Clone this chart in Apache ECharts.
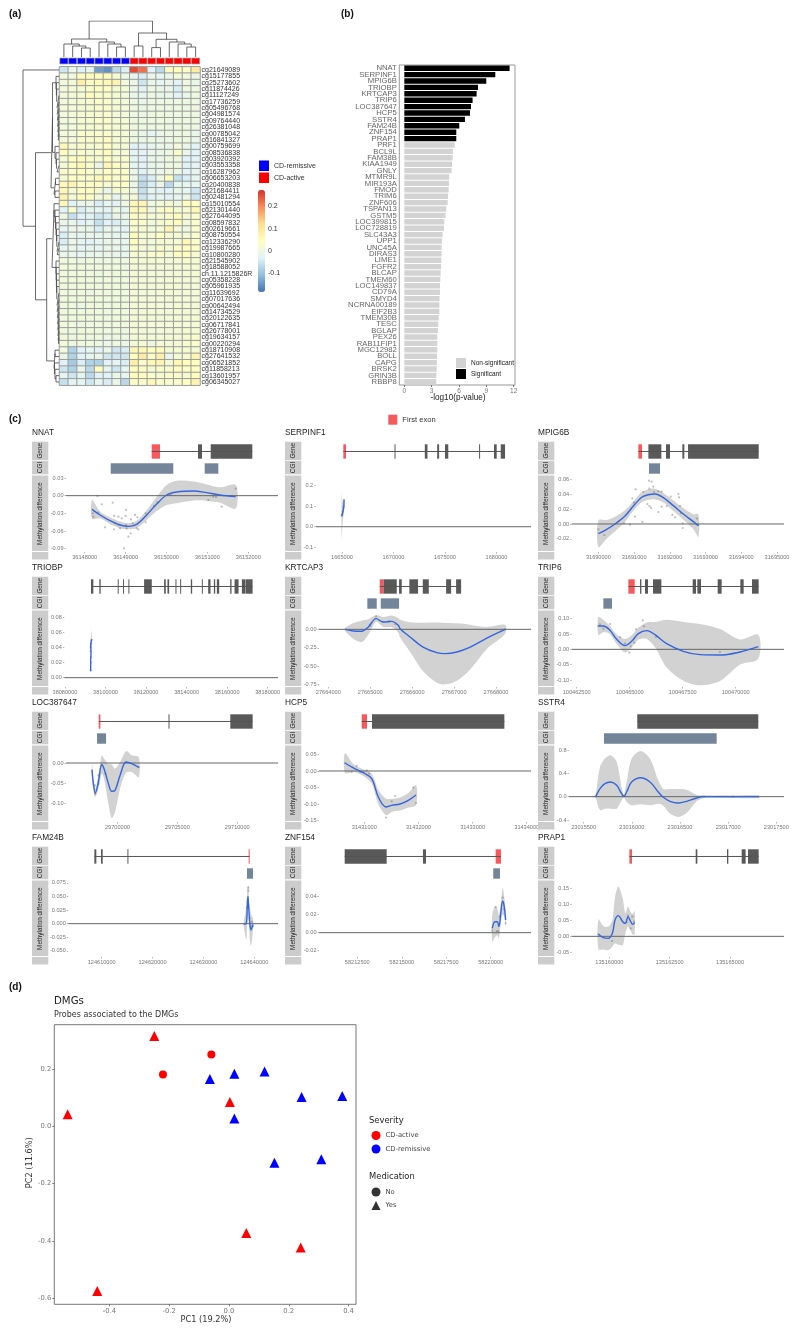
<!DOCTYPE html>
<html><head><meta charset="utf-8">
<style>html,body{margin:0;padding:0;background:#fff}#c{width:798px;height:1334px}</style>
<script src="https://cdn.jsdelivr.net/npm/echarts@6/dist/echarts.min.js"></script>
</head><body><div id="c"></div>
<script>
// ---------- panel (a) data
const probes=['cg21649089','cg15177855','cg25273602','cg11874426','cg11127249','cg17736259','cg05496768','cg04981574','cg09764440','cg26381048','cg00785042','cg16841327','cg00759699','cg08536838','cg03920392','cg03553358','cg16287962','cg06653203','cg20400838','cg21684411','cg02481294','cg15010554','cg21301440','cg27644095','cg08597832','cg02619661','cg08750554','cg12336290','cg19987665','cg10800280','cg21545902','cg18588052','ch.11.1215826R','cg05358228','cg05961935','cg11639692','cg07017636','cg00642494','cg14734529','cg20122635','cg06717841','cg26778001','cg19634157','cg00220294','cg18710908','cg27641532','cg06521852','cg11858213','cg13601957','cg06345027'];
const samples=['s1','s2','s3','s4','s5','s6','s7','s8','s9','s10','s11','s12','s13','s14','s15','s16'];
const sampleGroup=['CD-remissive','CD-remissive','CD-remissive','CD-remissive','CD-remissive','CD-remissive','CD-remissive','CD-remissive','CD-active','CD-active','CD-active','CD-active','CD-active','CD-active','CD-active','CD-active'];
const methylation=[
[-.05,-.01,-.035,-.02,-.14,-.155,-.07,-.04,.25,.22,-.03,-.07,.05,.05,.03,.09],
[.01,.005,.05,.055,.05,.05,.02,-.01,-.02,-.04,-.01,-.02,-.01,.01,.005,-.005],
[.01,.015,.08,.04,.05,.06,.07,.01,-.01,-.05,-.01,-.02,-.01,-.03,0,-.01],
[.01,.015,.02,.03,.04,.04,.02,.02,-.01,-.03,0,-.01,-.01,-.04,0,0],
[.015,.015,.02,.05,.03,.03,.02,.01,-.01,-.02,0,-.015,-.01,-.03,-.01,0],
[.01,.015,.02,.02,.03,.03,.02,.015,0,-.01,0,0,0,0,0,0],
[.015,.015,.02,.02,.025,.03,.02,.015,0,-.005,0,0,0,0,0,0],
[.01,.015,.02,.025,.025,.03,.015,.015,0,-.005,0,.005,0,0,0,0],
[.01,.01,.02,.02,.03,.03,.02,.02,0,0,0,0,0,0,0,0],
[.01,.01,.02,.02,.02,.03,.02,.02,.005,0,0,0,0,0,0,0],
[.01,.01,.03,.03,.03,.03,.02,.02,0,-.01,-.02,-.01,0,0,0,-.01],
[.015,.015,.03,.03,.03,.05,.02,.02,0,-.01,0,-.01,0,0,0,-.01],
[.06,.02,.03,.02,.03,.04,.02,.02,-.03,-.03,-.02,-.01,-.01,.01,-.01,-.03],
[.05,.02,.03,.02,.03,.05,.02,.02,-.02,-.03,-.01,-.01,0,.03,-.01,-.03],
[.02,.04,.05,.03,.02,.04,.02,.03,-.02,-.03,-.01,-.01,0,0,-.03,-.03],
[.02,.04,.06,.03,-.01,.06,.04,.03,-.02,-.03,-.015,-.01,0,0,-.03,-.025],
[.03,.03,.05,.03,.02,.04,.03,.04,-.01,-.03,-.01,-.01,0,0,-.03,-.02],
[.02,.04,.03,.03,.06,.05,.03,.04,-.01,-.06,-.04,0,.05,-.06,-.04,-.02],
[.06,.07,.04,.04,.05,.02,.03,.04,-.01,-.07,-.04,-.01,-.07,-.02,-.02,-.02],
[.06,.02,.04,.04,.02,-.01,.02,.02,0,-.06,-.02,-.03,-.03,-.01,-.02,-.05],
[.07,.02,.05,.04,.01,.02,-.02,.01,.01,-.05,-.03,-.02,-.03,-.02,-.01,-.05],
[.06,-.03,-.01,-.01,-.04,-.02,-.03,0,.06,.07,0,.01,.02,0,.05,.04],
[-.03,.03,-.04,-.02,-.02,-.03,0,-.02,.06,.06,0,.03,.04,.02,.02,.06],
[0,-.06,-.03,-.03,-.05,-.04,-.01,-.01,.04,.03,.02,.02,.03,.05,.02,.03],
[-.01,-.01,-.03,-.02,-.06,-.03,-.04,-.02,.03,.03,.01,.02,.03,.05,.01,.03],
[-.02,-.01,-.01,-.01,-.04,-.01,-.02,-.03,.03,.02,.01,.02,.07,.01,0,.03],
[-.04,-.01,-.02,-.01,-.02,-.01,-.02,-.02,.05,.02,.02,.04,.02,.02,.01,.03],
[-.04,-.01,-.02,-.03,-.02,-.01,-.01,-.02,.05,.02,.01,.02,.02,.02,.06,.03],
[-.02,-.01,-.02,-.02,-.02,-.01,-.01,-.02,.03,.02,.01,.03,.02,.03,.05,.04],
[-.01,-.01,-.02,-.01,-.01,-.01,-.01,-.02,.02,.02,.03,.03,.02,.05,.05,.02],
[.005,.005,0,.005,0,0,.005,0,.02,.02,.015,.015,.015,.015,.025,.02],
[.01,.005,.005,.005,.005,.005,.01,0,.015,.015,.015,.015,.015,.015,.02,.02],
[.005,.005,.005,.005,0,.005,.005,.005,.015,.015,.015,.015,.01,.015,.015,.02],
[.005,.005,.005,.005,.005,.005,.005,.005,.015,.015,.01,.015,.015,.015,.015,.015],
[.005,.005,.005,.005,.005,.005,.005,.005,.015,.015,.015,.015,.015,.015,.015,.015],
[.005,.005,.005,0,.005,.005,.005,.005,.015,.01,.015,.015,.015,.015,.015,.015],
[.005,.005,.005,.005,.005,.005,.005,.005,.015,.015,.015,.015,.015,.015,.015,.015],
[.005,.005,0,.005,.005,.005,.005,.005,.015,.015,.015,.015,.01,.015,.015,.015],
[.005,.005,.005,.005,.005,0,.005,.005,.015,.015,.015,.015,.015,.015,.015,.015],
[.005,.005,.005,.005,.005,.005,.005,.005,.015,.015,.015,.01,.015,.015,.015,.02],
[.005,.005,0,.005,.005,.005,.005,.005,.015,.015,.015,.015,.015,.015,.015,.02],
[.005,0,.005,.005,.005,.005,.005,0,.015,.015,.01,.015,.015,.015,.02,.02],
[.005,0,.005,0,.005,-.005,0,0,.015,.015,.015,.015,.015,.015,.02,.025],
[.01,0,0,.005,0,-.01,0,-.005,.015,.02,-.005,.015,.015,.015,.025,.03],
[.01,-.08,-.03,-.02,-.03,-.01,-.05,-.04,.06,.06,.04,.05,.02,.02,.02,.02],
[-.01,-.08,-.03,-.02,-.01,-.05,-.05,-.05,.05,.09,.03,.08,-.01,.02,.02,.07],
[-.03,-.09,-.04,-.08,-.08,-.03,-.02,-.04,.08,.03,.06,.07,.02,.06,.05,.05],
[-.05,-.08,-.01,-.07,.05,-.02,-.05,-.02,.05,.04,.02,.03,.03,.04,.04,.04],
[-.02,-.05,-.02,-.07,-.03,-.03,-.01,-.02,.05,.05,.03,.02,.03,.03,.02,.05],
[-.06,-.02,-.02,-.05,-.02,-.04,-.01,-.07,.04,.03,.06,.03,.03,.03,.04,.07]
];
const heatColors=['#4575B4','#91BFDB','#E0F3F8','#FFFFBF','#FEE090','#FC8D59','#D73027'];
const heatRange=[-.184,.272];
const heatTicks=[.2,.1,0,-.1];
// dendrograms: [height, childA, childB], a number is a leaf
const sampleTree=[36,[18,[13,0,[11,1,[9,2,3]]],[15,4,[13,5,[10,6,7]]]],[24,[11,8,9],[17.7,[9.4,10,11],[15,12,[13,13,[10,14,15]]]]]];
const probeTree=[36,0,[23.5,
 [8,[6.5,[3,1,[2.6,2,[2.3,3,[2,4,[1.8,5,[1.6,6,[1.4,7,[1.2,8,[1,9,[.8,10,11]]]]]]]]]],[4,12,[3,13,[2.5,14,[2,15,16]]]]],[5,[3.5,17,18],[4,19,20]]],
 [12.3,[7,[5,21,[4,22,[3.5,23,[3,24,[2.5,25,[2.2,26,[2,27,[1.8,28,29]]]]]]]],[3,30,[2.8,31,[2.6,32,[2.4,33,[2.2,34,[2,35,[1.8,36,[1.6,37,[1.4,38,[1.2,39,[1,40,[.8,41,[.6,42,43]]]]]]]]]]]]]],[5,[4,44,45],[4.5,46,[4,47,[3,48,49]]]]]
]];
// ---------- panel (b) data
const genes=['NNAT','SERPINF1','MPIG6B','TRIOBP','KRTCAP3','TRIP6','LOC387647','HCP5','SSTR4','FAM24B','ZNF154','PRAP1','PRF1','BCL9L','FAM38B','KIAA1949','GNLY','MTMR9L','MIR193A','FMOD','TRIM6','ZNF606','TSPAN13','GSTM5','LOC399815','LOC728819','SLC43A3','UPP1','UNC45A','DIRAS3','LIME1','FGFR2','BLCAP','TMEM60','LOC149837','CD79A','SMYD4','NCRNA00189','EIF2B3','TMEM30B','TESC','BGLAP','PEX26','RAB11FIP1','MGC12982','BOLL','CAPG','BRSK2','GRIN3B','RBBP8'];
const logP=[11.55,9.98,8.99,8.08,7.93,7.49,7.31,7.2,6.65,6.03,5.7,5.7,5.52,5.34,5.3,5.23,5.19,4.93,4.9,4.86,4.79,4.75,4.6,4.53,4.39,4.35,4.2,4.13,4.09,4.09,4.06,4.02,3.98,3.95,3.91,3.91,3.87,3.84,3.84,3.77,3.73,3.69,3.62,3.62,3.62,3.58,3.58,3.55,3.51,3.51];
const significantCount=12;
const logPTicks=[0,3,6,9,12];
// ---------- panel (c) data: each gene has its own small arrays (offsets in bp from `base`)
const nnat={name:'NNAT',base:36148000,min:36147543,max:36152726,xt:[36148000,36149000,36150000,36151000,36152000],ymin:-.0957,ymax:.0334,yt:[.03,0,-.03,-.06,-.09],dec:2,
 first:[1638,1841],exons:[[2770,2868],[3081,4098]],cgi:[[636,2166],[2934,3267]],
 x:[179,375,619,864,1068,1271,1516,1760,2005,2249,2657,2983,3309,3692],
 y:[-.0232,-.0328,-.0425,-.0498,-.0521,-.0487,-.0328,-.0142,.0011,.0062,.0079,.0051,.0011,-.0017],
 se:[.016,.0057,.0057,.0057,.0051,.0062,.0085,.012,.017,.019,.016,.014,.013,.02],
 pts:[[310,-.0006],[416,-.0147],[196,-.03],[212,-.0357],[334,-.0289],[497,-.0538],[685,-.0119],[717,-.0345],[742,-.047],[717,-.0572],[823,-.0357],[823,-.0498],[905,-.0385],[864,-.0555],[1011,-.0243],[1002,-.0345],[1011,-.0498],[1027,-.0555],[1068,-.0696],[1125,-.064],[1133,-.0402],[962,-.0894],[1231,-.0328],[1288,-.0368],[1271,-.0555],[1174,-.047],[1312,-.0572],[1491,-.0453],[1491,-.03],[1695,-.0175],[1777,-.0113],[2103,.0011],[3024,-.0074],[3146,-.0017],[3211,-.0023],[3350,-.0187],[3692,.0119]]};
const serpinf1={name:'SERPINF1',base:1665000,min:1662447,max:1683350,xt:[1665000,1670000,1675000,1680000],ymin:-.122,ymax:.245,yt:[.2,.1,0,-.1],dec:1,
 first:[130,390],exons:[[5100,5180],[8040,8300],[9240,9430],[10000,10320],[13310,13370],[14760,15020],[15410,15830]],cgi:[],
 x:[-32,65,161,194,194],y:[.052,.068,.089,.113,.129],se:[.11,.05,.03,.05,.09],
 pts:[[-32,.052],[20,.06],[65,.075],[100,.09],[161,.1],[194,.13]]};
const mpig6b={name:'MPIG6B',base:31690000,min:31689254,max:31695196,xt:[31690000,31691000,31692000,31693000,31694000,31695000],ymin:-.0376,ymax:.0644,yt:[.06,.04,.02,0,-.02],dec:2,
 first:[1120,1222],exons:[[1400,1763],[1894,2006],[2351,2407],[2510,4488]],cgi:[[1418,1726]],
 x:[0,233,467,746,980,1213,1400,1586,1819,2099,2379,2659,2799],
 y:[-.013,-.0072,0,.0107,.0241,.0358,.0393,.0402,.0353,.0246,.0134,.0031,-.0022],
 se:[.018,.0125,.0098,.0076,.0063,.0067,.0072,.0072,.0063,.0072,.0076,.0098,.0152],
 pts:[[0,-.0072],[168,-.0148],[718,.0009],[886,-.0009],[1026,.0098],[1045,.0465],[952,.0344],[998,.0286],[1232,.0027],[1260,.0429],[1372,.0268],[1427,.0241],[1474,.0215],[1418,.0581],[1493,.0568],[1540,.0501],[1427,.0474],[1558,.0429],[1679,.0161],[1773,.0232],[1679,.0438],[1773,.0434],[1913,.0241],[2025,.0367],[2071,.0121],[2146,.0089],[2239,.0402],[2258,.0358],[2286,.0241],[2360,.0009],[2360,-.0054],[2305,.0143],[2762,.0072],[2799,-.0013]]};
const triobp={name:'TRIOBP',base:38080000,min:38079670,max:38185106,xt:[38080000,38100000,38120000,38140000,38160000,38180000],ymin:-.0123,ymax:.088,yt:[.08,.06,.04,.02,0],dec:2,
 first:null,exons:[[12847,14000],[16964,17623],[26023,26517],[28658,29152],[31293,31787],[39034,42822],[48916,49739],[50563,51386],[54516,55010],[56822,57316],[62092,62751],[67527,68021],[70656,71809],[73456,74115],[74939,76091],[81527,82185],[83668,85644],[87291,89103],[89267,92561]],cgi:[],
 x:[12682,12682,12847,12682,13176],y:[.0084,.0207,.033,.0427,.0506],se:[.006,.005,.005,.006,.012],
 pts:[[12682,.01],[12847,.02],[12682,.035],[12847,.027],[13000,.045],[12700,.04],[13176,.05]]};
const krtcap3={name:'KRTCAP3',base:27664000,min:27663778,max:27668835,xt:[27664000,27665000,27666000,27667000,27668000],ymin:-.782,ymax:.2486,yt:[0,-.25,-.5,-.75],dec:2,
 first:[1227,1313],exons:[[1313,1633],[1688,1752],[1933,2141],[2253,2397],[2810,2929],[3048,3168]],cgi:[[931,1155],[1251,1688]],
 x:[399,597,797,955,1139,1313,1513,1671,1711,1950,2261,2588,2788,3067,3384,3782,4218],
 y:[0,-.0226,-.027,.032,.145,.099,.108,.054,.009,-.104,-.24,-.316,-.33,-.307,-.24,-.118,0],
 se:[.02,.108,.145,.104,.045,.068,.08,.1,.12,.2,.33,.407,.416,.389,.303,.149,.06],
 pts:[[1139,.176],[1000,.05],[1300,.1],[1450,.11],[1600,.07],[4218,0]]};
const trip6={name:'TRIP6',base:100462500,min:100462264,max:100472279,xt:[100462500,100465000,100467500,100470000],ymin:-.1228,ymax:.125,yt:[.1,.05,0,-.05,-.1],dec:2,
 first:[2437,2735],exons:[[2987,3050],[3223,3364],[3600,3993],[5471,5628],[5691,5864],[6650,6838],[7719,7876],[8269,8583]],cgi:[[1258,1666]],
 x:[1022,1258,1572,1886,2279,2594,2908,3301,3694,4244,5030,5816,6760,7703,8567],
 y:[.0761,.0761,.062,.0326,.012,.0261,.0511,.0609,.0478,.0185,-.0065,-.0174,-.0185,-.0087,.0087],
 se:[.029,.02,.013,.016,.022,.02,.02,.027,.041,.078,.096,.1,.085,.041,.039],
 pts:[[1022,.0761],[1258,.0674],[1100,.0815],[1572,.0826],[2044,.0402],[2279,.0185],[2484,-.0109],[2547,.0098],[2720,.0217],[2798,.0652],[3113,.0946],[3175,.075],[3741,.0402],[6760,-.0087]]};
const loc387647={name:'LOC387647',base:29700000,min:29695710,max:29713399,xt:[29700000,29705000,29710000],ymin:-.1475,ymax:.0425,yt:[0,-.05,-.1],dec:2,
 first:[-1560,-1421],exons:[[4263,4346],[9417,11283]],cgi:[[-1699,-947]],
 x:[-2117,-2006,-1839,-1588,-1309,-1114,-752,-474,-195,223,724,1198,1783],
 y:[-.0183,-.0516,-.075,-.0475,-.0042,-.0142,-.0516,-.0708,-.0683,-.0308,.0025,-.0017,-.0108],
 se:[.018,.017,.01,.017,.023,.025,.05,.067,.054,.033,.027,.021,.025],
 pts:[[-2117,-.0183],[-1867,-.056],[-1588,-.031],[-1588,-.052],[-1309,-.006],[-1003,-.027],[724,.001],[-1867,-.077],[1783,-.0108]]};
const hcp5={name:'HCP5',base:31431000,min:31430163,max:31434079,xt:[31431000,31432000,31433000,31434000],ymin:-.1545,ymax:.0757,yt:[.05,0,-.05,-.1,-.15],dec:2,
 first:[-48,50],exons:[[142,2587]],cgi:[],
 x:[-357,-203,-18,137,259,401,506,660,813,955],
 y:[.0242,.0091,-.005,-.0232,-.0788,-.109,-.104,-.1,-.0889,-.0727],
 se:[.03,.012,.01,.015,.022,.025,.02,.02,.022,.03],
 pts:[[-357,.0242],[-233,-.003],[-141,.015],[-79,-.003],[-48,-.003],[45,.002],[88,-.008],[402,-.141],[506,-.092],[568,-.076],[905,-.0505],[955,-.0969]]};
const sstr4={name:'SSTR4',base:23015500,min:23015348,max:23017580,xt:[23015500,23016000,23016500,23017000,23017500],ymin:-.434,ymax:.868,yt:[.8,.4,0,-.4],dec:1,
 first:null,exons:[[557,1813]],cgi:[[211,1381]],
 x:[125,170,221,280,343,394,419,446,498,592,689,775,827,896,983,1069,1173,1249,1554,1813],
 y:[0,.137,.223,.251,.194,.051,.006,.08,.251,.325,.251,.08,-.011,-.08,-.108,-.08,-.023,0,0,0],
 se:[.011,.37,.43,.457,.4,.114,.03,.17,.4,.457,.4,.2,.143,.21,.24,.2,.057,.023,.023,.023],
 pts:[[125,0],[405,.011],[422,.011],[1249,0],[1813,0],[1554,0]]};
const fam24b={name:'FAM24B',base:124610000,min:124603434,max:124644662,xt:[124610000,124620000,124630000,124640000],ymin:-.0613,ymax:.0785,yt:[.075,.05,.025,0,-.025,-.05],dec:3,
 first:[28890,29087],exons:[[-1445,-1051],[-131,197],[5056,5253]],cgi:[[28562,29744]],
 x:[27906,28431,28628,28759,28890,28956,29087,29350,29744],
 y:[-.0006,.0006,.0343,.0497,.0497,.0221,.0037,-.0116,-.0012],
 se:[.003,.03,.03,.02,.02,.02,.03,.03,.01],
 pts:[[28824,.0662],[28824,.0607],[28759,.0313],[28562,.0294],[29087,.0098],[29547,.0037],[29350,-.0055],[29744,-.0043]]};
const znf154={name:'ZNF154',base:58212500,min:58210348,max:58222265,xt:[58212500,58215000,58217500,58220000],ymin:-.027,ymax:.0574,yt:[.04,.02,0,-.02],dec:2,
 first:[7778,8076],exons:[[-708,1652],[3692,3861]],cgi:[[7643,8020]],
 x:[7587,7739,7868,7964,8076,8172,8261,8340],
 y:[.0048,.0122,.0122,.0067,.0233,.0352,.0289,.0141],
 se:[.015,.017,.015,.013,.011,.015,.011,.0074],
 pts:[[7587,.0022],[7778,.0285],[7834,.0018],[7924,.0018],[8020,.0178],[8172,.0389],[8261,.0259],[8340,.0104]]};
const prap1={name:'PRAP1',base:135160000,min:135158439,max:135167237,xt:[135160000,135162500,135165000],ymin:-.0651,ymax:.1743,yt:[.15,.1,.05,0,-.05],dec:2,
 first:[829,939],exons:[[3577,3646],[4875,4930],[5483,5648],[5745,6187]],cgi:[],
 x:[-456,-249,-41,124,235,373,552,663,773,884,967,1050],
 y:[.0063,-.0042,-.0063,.0095,.0515,.0651,.0462,.041,.062,.0462,.0378,.0431],
 se:[.047,.037,.037,.042,.0735,.092,.0735,.032,.032,.029,.032,.037],
 pts:[[-456,.0063],[110,-.0147],[718,.0441],[773,.0651],[884,.0252],[953,.062],[1022,.0462]]};
const facets=[nnat,serpinf1,mpig6b,triobp,krtcap3,trip6,loc387647,hcp5,sstr4,fam24b,znf154,prap1];
// ---------- panel (d) data
const activeYes=[[-.25,.315],[-.54,.042],[.003,.085],[.058,-.372],[.24,-.423],[-.441,-.575]];
const activeNo=[[-.221,.181],[-.059,.251]];
const remissiveYes=[[-.064,.165],[.018,.183],[.119,.191],[.243,.102],[.379,.106],[.018,.027],[.152,-.127],[.309,-.115]];
const pc1Ticks=[-.4,-.2,0,.2,.4];
const pc2Ticks=[.2,0,-.2,-.4,-.6];

// ---------- layout
const SANS='"Liberation Sans",Arial,sans-serif', DJ='"DejaVu Sans",sans-serif';
const noLine={show:false,onZero:false};
const grids=[],xAxes=[],yAxes=[],series=[],gfx=[];
function addGrid(r,x,y){const i=grids.length;grids.push(Object.assign({containLabel:false},r));xAxes.push(Object.assign({gridIndex:i},x));yAxes.push(Object.assign({gridIndex:i},y));return i;}
const hide=(min,max,extra)=>Object.assign({type:'value',show:false,min,max},extra||{});
function text(t,x,y,o){o=o||{};gfx.push({type:'text',x,y,rotation:o.rot||0,silent:true,z:20,style:{text:t,fontSize:o.size||8,fontFamily:o.font||SANS,fontWeight:o.bold?'bold':'normal',fill:o.color||'#333',align:o.align||'left',verticalAlign:'middle'}});}
function rect(x,y,w,h,c){gfx.push({type:'rect',silent:true,z:1,shape:{x,y,width:w,height:h},style:{fill:c}});}
function flatten(node,out,swap){
  if(typeof node==='number')return [node,0];
  const a=flatten(node[1],out,swap),b=flatten(node[2],out,swap),h=node[0];
  const P=(p,v)=>swap?[v,p]:[p,v];
  out.push(P(a[0],a[1]),P(a[0],h),P(b[0],h),P(b[0],b[1]),[null,null]);
  return [(a[0]+b[0])/2,h];
}
const fmt=d=>v=>Number(v).toFixed(d);

// --- (a) heatmap (must stay series 0, visualMap targets it)
const hg=addGrid({left:59.5,top:66.8,width:140.5,height:318.4},
 {type:'category',data:samples,show:false},
 {type:'category',data:probes,inverse:true,position:'right',axisLine:{show:false},axisTick:{show:false},axisLabel:{interval:0,fontSize:7,color:'#333',margin:1.5,fontFamily:SANS}});
const hd=[];methylation.forEach((r,ri)=>r.forEach((v,ci)=>hd.push([ci,ri,v])));
series.push({type:'heatmap',xAxisIndex:hg,yAxisIndex:hg,data:hd,itemStyle:{borderColor:'#9c9c9c',borderWidth:1}});
// annotation strip
const ag=addGrid({left:59.5,top:57.7,width:140.5,height:6.6},{type:'category',data:samples,show:false},hide(0,1));
['CD-remissive','CD-active'].forEach(g=>series.push({type:'bar',name:g,stack:'ann',barWidth:'100%',xAxisIndex:ag,yAxisIndex:ag,
 itemStyle:{color:g==='CD-active'?'#FF0000':'#0000FF',borderColor:'#999',borderWidth:.7},data:sampleGroup.map(s=>s===g?1:null)}));
// dendrograms
const dendStyle={color:'#444',width:.8};
const dtop=[];flatten(sampleTree,dtop,false);
const tg=addGrid({left:59.5,top:21,width:140.5,height:36},hide(-.5,15.5),hide(0,36));
series.push({type:'line',xAxisIndex:tg,yAxisIndex:tg,data:dtop,showSymbol:false,lineStyle:dendStyle,itemStyle:{color:'#444'},silent:true});
const dleft=[];flatten(probeTree,dleft,true);
const lg=addGrid({left:23,top:66.8,width:36,height:318.4},hide(0,36,{inverse:true}),hide(-.5,49.5,{inverse:true}));
series.push({type:'line',xAxisIndex:lg,yAxisIndex:lg,data:dleft,showSymbol:false,lineStyle:dendStyle,itemStyle:{color:'#444'},silent:true});
heatTicks.forEach(t=>text(String(t),268,251-t*223,{size:7,color:'#333'}));

// --- (b)
const bg=addGrid({left:399.3,top:65,width:115.7,height:320,show:true,borderColor:'#999',borderWidth:1},
 {type:'value',min:-.55,max:12.14,splitLine:{show:false},axisLine:noLine,axisTick:{show:true,length:2,lineStyle:{color:'#777'},customValues:logPTicks},axisLabel:{fontSize:6.5,color:'#777',margin:3,fontFamily:SANS,customValues:logPTicks}},
 {type:'category',data:genes,inverse:true,axisLine:noLine,axisTick:{length:2,alignWithLabel:true,lineStyle:{color:'#555'}},axisLabel:{interval:0,fontSize:7.7,color:'#666',margin:2.5,fontFamily:SANS}});
series.push({type:'bar',name:'Non-significant',stack:'b',barWidth:5.4,xAxisIndex:bg,yAxisIndex:bg,itemStyle:{color:'#D3D3D3'},data:logP.map((v,i)=>i<significantCount?null:v)});
series.push({type:'bar',name:'Significant',stack:'b',barWidth:5.4,xAxisIndex:bg,yAxisIndex:bg,itemStyle:{color:'#000'},data:logP.map((v,i)=>i<significantCount?v:null)});
text('-log10(p-value)',458,398,{size:8.2,align:'center',color:'#222'});

// --- (c)
const stripX=[32,285,538], panelRight=[278,531,784];
const panelLeft=[66,315.7,571.7,64.3,319,571.7,66,319,569,68.3,319,571.7];
const GENE_LO=.479,GENE_HI=.92,GENE_MID=.7,CGI_LO=.018,CGI_HI=.337;
function rectSeries(gi,name,data,lo,hi,color){
  series.push({type:'custom',name,xAxisIndex:gi,yAxisIndex:gi,silent:true,itemStyle:{color},clip:false,encode:{x:[0,1],y:[2,3]},
   data:data.map(d=>[d[0],d[1],lo,hi]),
   renderItem:(p,api)=>{const a=api.coord([api.value(0),api.value(3)]),b=api.coord([api.value(1),api.value(2)]);
     return {type:'rect',shape:{x:a[0],y:a[1],width:Math.max(b[0]-a[0],1),height:b[1]-a[1]},style:{fill:color}};}});
}
facets.forEach((f,i)=>{
  const c=i%3,r=Math.floor(i/3),dy=135*r,L=panelLeft[i],R=panelRight[c],sx=stripX[c];
  text(f.name,sx,433+dy,{size:8.3,color:'#222'});
  rect(sx,441.7+dy,16.3,18.3,'#CCCCCC');rect(sx,460.7+dy,16.3,13.6,'#CCCCCC');rect(sx,475.5+dy,16.3,75.5,'#CCCCCC');rect(sx,552+dy,16.3,7.5,'#CCCCCC');
  text('Gene',sx+8.4,450.8+dy,{rot:Math.PI/2,size:6.4,align:'center',color:'#222'});
  text('CGI',sx+8.4,467.5+dy,{rot:Math.PI/2,size:6.4,align:'center',color:'#222'});
  text('Methylation difference',sx+8.4,513.7+dy,{rot:Math.PI/2,size:6.4,align:'center',color:'#222'});
  const add=p=>[p[0]+f.base,p[1]+f.base];
  // tracks
  const tg=addGrid({left:L,top:441.7+dy,width:R-L,height:32.6},hide(f.min,f.max),hide(0,1));
  const all=f.exons.concat(f.first?[f.first]:[]);
  const s=Math.min(...all.map(e=>e[0]))+f.base,e=Math.max(...all.map(e=>e[1]))+f.base;
  series.push({type:'line',xAxisIndex:tg,yAxisIndex:tg,data:[[s,GENE_MID],[e,GENE_MID]],showSymbol:false,silent:true,lineStyle:{color:'#555',width:1},itemStyle:{color:'#555'}});
  rectSeries(tg,'Exon',f.exons.map(add),GENE_LO,GENE_HI,'#595959');
  if(f.first)rectSeries(tg,'First exon',[add(f.first)],GENE_LO,GENE_HI,'#F8575C');
  if(f.cgi.length)rectSeries(tg,'CGI',f.cgi.map(add),CGI_LO,CGI_HI,'#748599');
  // methylation
  const mg=addGrid({left:L,top:476+dy,width:R-L,height:76},
   {type:'value',min:f.min,max:f.max,splitLine:{show:false},axisLine:noLine,
    axisTick:{length:1.5,lineStyle:{color:'#888',width:.6},customValues:f.xt},
    axisLabel:{fontSize:5.6,color:'#777',margin:2.5,fontFamily:SANS,customValues:f.xt,formatter:v=>String(v)}},
   {type:'value',min:f.ymin,max:f.ymax,splitLine:{show:false},axisLine:noLine,
    axisTick:{length:1.5,lineStyle:{color:'#888',width:.6},customValues:f.yt},
    axisLabel:{fontSize:5.6,color:'#777',margin:2.5,fontFamily:SANS,customValues:f.yt,formatter:fmt(f.dec)}});
  const rib=f.x.map((x,k)=>[x+f.base,f.y[k]-f.se[k],f.y[k]+f.se[k]]);
  series.push({type:'custom',name:'Confidence band',xAxisIndex:mg,yAxisIndex:mg,silent:true,encode:{x:0,y:[1,2]},data:rib,z:1,
   renderItem:(p,api)=>{ if(p.dataIndex!==0)return null;
     const up=rib.map(d=>api.coord([d[0],d[2]])),lo=rib.map(d=>api.coord([d[0],d[1]])).reverse();
     return {type:'polygon',shape:{points:up.concat(lo),smooth:.3},style:{fill:'#D2D2D2'}};}});
  series.push({type:'line',name:'Zero',xAxisIndex:mg,yAxisIndex:mg,z:2,silent:true,showSymbol:false,lineStyle:{color:'#666',width:1},itemStyle:{color:'#666'},data:[[f.min,0],[f.max,0]]});
  series.push({type:'scatter',name:'Probes',xAxisIndex:mg,yAxisIndex:mg,z:3,silent:true,symbolSize:2.2,itemStyle:{color:'rgba(80,80,80,.45)'},data:f.pts.map(p=>[p[0]+f.base,p[1]])});
  series.push({type:'line',name:'Loess',xAxisIndex:mg,yAxisIndex:mg,z:4,silent:true,showSymbol:false,smooth:.35,lineStyle:{color:'#3366DD',width:1.4},itemStyle:{color:'#3366DD'},data:f.x.map((x,k)=>[x+f.base,f.y[k]])});
});

// --- (d)
const dg=addGrid({left:54.3,top:1024.7,width:301.7,height:279.6,show:true,borderColor:'#777',borderWidth:1},
 {type:'value',min:-.5847,max:.425,splitLine:{show:false},axisLine:noLine,axisTick:{length:2,lineStyle:{color:'#777'},customValues:pc1Ticks},axisLabel:{fontSize:6.8,color:'#777',margin:3,fontFamily:DJ,customValues:pc1Ticks,formatter:fmt(1)}},
 {type:'value',min:-.6212,max:.3546,splitLine:{show:false},axisLine:noLine,axisTick:{length:2,lineStyle:{color:'#777'},customValues:pc2Ticks},axisLabel:{fontSize:6.8,color:'#777',margin:3,fontFamily:DJ,customValues:pc2Ticks,formatter:fmt(1)}});
const tri=p=>({value:p,symbol:'triangle',symbolSize:10}),cir=p=>({value:p,symbol:'circle',symbolSize:8});
series.push({type:'scatter',name:'CD-active',xAxisIndex:dg,yAxisIndex:dg,itemStyle:{color:'#FF0000',opacity:1},data:activeYes.map(tri).concat(activeNo.map(cir))});
series.push({type:'scatter',name:'CD-remissive',xAxisIndex:dg,yAxisIndex:dg,itemStyle:{color:'#0000FF',opacity:1},data:remissiveYes.map(tri)});
series.push({type:'scatter',name:'No',xAxisIndex:dg,yAxisIndex:dg,itemStyle:{color:'#000'},data:[]});
series.push({type:'scatter',name:'Yes',xAxisIndex:dg,yAxisIndex:dg,itemStyle:{color:'#000'},data:[]});
text('DMGs',54,1001,{size:10.2,font:DJ,color:'#222'});
text('Probes associated to the DMGs',54,1015,{size:8,font:DJ,color:'#333'});
text('PC1 (19.2%)',206,1320,{size:8.2,font:DJ,align:'center',color:'#333'});
text('PC2 (11.6%)',30,1162.7,{rot:Math.PI/2,size:8.2,font:DJ,align:'center',color:'#333'});
text('Severity',369,1120.7,{size:8.4,font:DJ,color:'#222'});
text('Medication',369,1176.7,{size:8.4,font:DJ,color:'#222'});
// panel letters
[['(a)',9,14.7],['(b)',341,14.7],['(c)',9,419.3],['(d)',9,987]].forEach(a=>text(a[0],a[1],a[2],{size:10,bold:true,color:'#111'}));

const legendBase={selectedMode:false,orient:'vertical',padding:0,inactiveColor:'#000',itemStyle:{borderWidth:0}};
const chart=echarts.init(document.getElementById('c'),null,{width:798,height:1334});
chart.setOption({
 animation:false,backgroundColor:'#fff',textStyle:{fontFamily:SANS},
 grid:grids,xAxis:xAxes,yAxis:yAxes,series,
 visualMap:[{type:'continuous',seriesIndex:0,min:heatRange[0],max:heatRange[1],inRange:{color:heatColors},calculable:false,
   left:258,top:190,itemWidth:7,itemHeight:102,padding:0,text:null,showLabel:false,realtime:false}],
 legend:[
  Object.assign({},legendBase,{left:259,top:160.5,itemWidth:10,itemHeight:10.5,itemGap:1.5,textStyle:{fontSize:7,color:'#333',fontFamily:SANS},data:[{name:'CD-remissive',icon:'rect'},{name:'CD-active',icon:'rect'}]}),
  Object.assign({},legendBase,{left:456,top:358,itemWidth:10,itemHeight:10,itemGap:1,textStyle:{fontSize:6.5,color:'#222',fontFamily:SANS},data:[{name:'Non-significant',icon:'rect'},{name:'Significant',icon:'rect'}]}),
  Object.assign({},legendBase,{left:388.3,top:414.7,itemWidth:9,itemHeight:10,textStyle:{fontSize:7.6,color:'#333',fontFamily:SANS},data:[{name:'First exon',icon:'rect'}]}),
  Object.assign({},legendBase,{left:371.5,top:1131,itemWidth:9,itemHeight:9,itemGap:4.5,textStyle:{fontSize:6.8,color:'#444',fontFamily:DJ},data:[{name:'CD-active',icon:'circle'},{name:'CD-remissive',icon:'circle'}]}),
  Object.assign({},legendBase,{left:371.5,top:1187.5,itemWidth:9,itemHeight:9,itemGap:4.5,textStyle:{fontSize:6.8,color:'#444',fontFamily:DJ},data:[{name:'No',icon:'circle'},{name:'Yes',icon:'triangle'}]})
 ],
 graphic:{elements:gfx}
});
</script></body></html>
